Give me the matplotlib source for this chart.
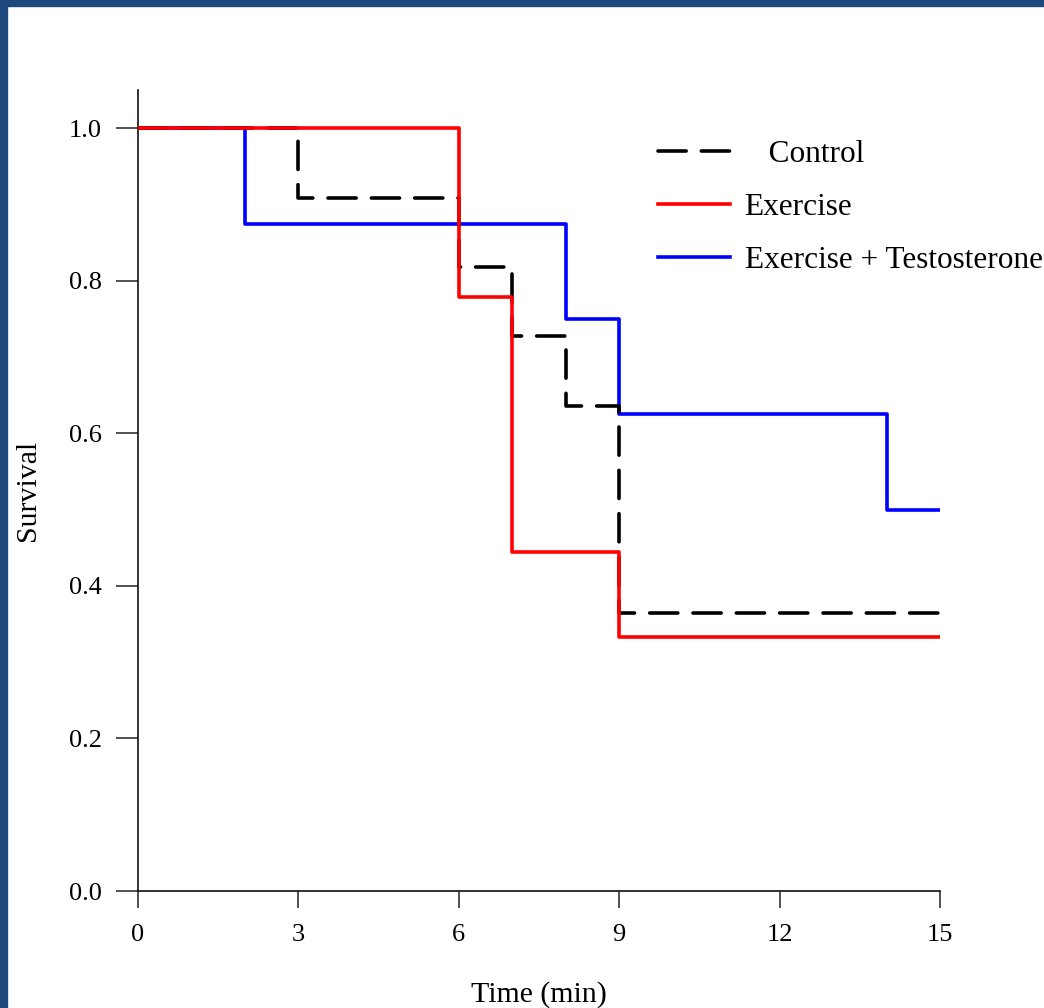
import matplotlib
matplotlib.use("Agg")
import matplotlib.pyplot as plt
from matplotlib.patches import Rectangle

# Data (Kaplan-Meier survival steps)
ctrl_t = [0, 3, 6, 7, 8, 9, 15]
ctrl_s = [1.0, 0.909, 0.818, 0.727, 0.636, 0.364, 0.364]
ex_t = [0, 6, 7, 9, 15]
ex_s = [1.0, 0.778, 0.444, 0.333, 0.333]
ext_t = [0, 2, 8, 9, 14, 15]
ext_s = [1.0, 0.875, 0.75, 0.625, 0.5, 0.5]
labels = ["   Control", "Exercise", "Exercise + Testosterone"]
xticks = [0, 3, 6, 9, 12, 15]
yticks = [0.0, 0.2, 0.4, 0.6, 0.8, 1.0]

plt.rcParams['font.family'] = ['Liberation Serif', 'DejaVu Serif']

W, H = 1044, 1008
fig = plt.figure(figsize=(W / 100, H / 100), dpi=100)
fig.patch.set_facecolor('white')

# Border bands
fig.patches.append(Rectangle((0, 1 - 6 / H), 1, 6 / H, transform=fig.transFigure,
                             color='#1F497D', zorder=0))
fig.patches.append(Rectangle((0, 0), 7 / W, 1, transform=fig.transFigure,
                             color='#1F497D', zorder=0))

ax = fig.add_axes([138 / W, (H - 891) / H, (940 - 138) / W, (891 - 90) / H])
lw = 2.6
ax.step(ext_t, ext_s, where='post', color='#0000FF', lw=lw, label=labels[2], zorder=2)
ax.step(ctrl_t, ctrl_s, where='post', color='black', lw=lw, linestyle=(0, (7.8, 4.2)),
        dash_capstyle='round', label=labels[0], zorder=3)
ax.step(ex_t, ex_s, where='post', color='#FF0000', lw=lw, label=labels[1], zorder=4)

ax.set_xlim(0, 15)
ax.set_ylim(0, 1.05)
ax.set_xticks(xticks)
ax.set_xticklabels([str(v) for v in xticks])
ax.set_yticks(yticks)
ax.set_yticklabels([f"{v:.1f}" for v in yticks])
for s in ['top', 'right']:
    ax.spines[s].set_visible(False)
for s in ['left', 'bottom']:
    ax.spines[s].set_linewidth(1.2)
    ax.spines[s].set_color('#111111')
ax.tick_params(axis='x', length=12, width=1.2, color='#333333', labelsize=19, pad=12)
ax.tick_params(axis='y', length=16, width=1.2, color='#333333', labelsize=19, pad=10)

ax.set_xlabel("Time (min)", fontsize=21.5, labelpad=25)
ax.set_ylabel("Survival", fontsize=21.5, labelpad=20)

handles, labs = ax.get_legend_handles_labels()
order = [labs.index(l) for l in labels]
leg = ax.legend([handles[i] for i in order], [labs[i] for i in order],
                loc='upper left', bbox_to_anchor=(658 / W, 1 - 140 / H),
                bbox_transform=fig.transFigure, frameon=False, fontsize=22.5,
                handlelength=2.3, handletextpad=0.47, labelspacing=0.76, borderpad=0,
                borderaxespad=0)

fig.savefig("out.png", dpi=100, facecolor='white')
